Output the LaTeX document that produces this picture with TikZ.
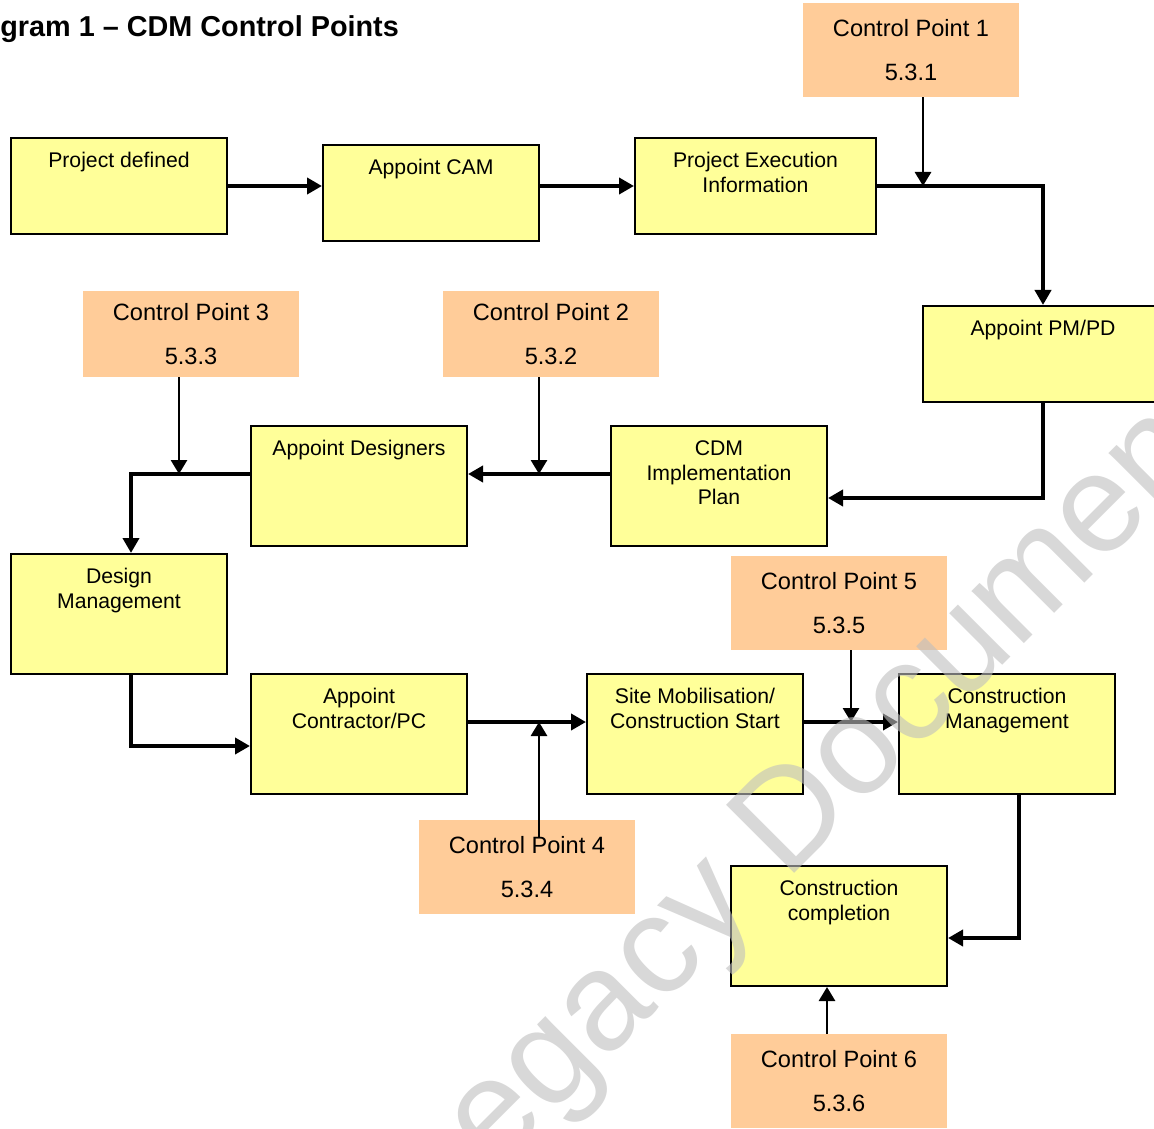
\documentclass[tikz,border=0pt]{standalone}
\usepackage{fontspec}
\setmainfont{Liberation Sans}
\usetikzlibrary{arrows.meta}
\usetikzlibrary{calc}
\definecolor{stagefill}{HTML}{FFFF99}
\definecolor{cpfill}{HTML}{FFCC99}
\definecolor{wmgray}{HTML}{BEBEBE}

\begin{document}
\begin{tikzpicture}[x=0.5pt,y=-0.5pt,
 stage/.style={draw=black, line width=1pt, fill=stagefill, minimum width=108pt, minimum height=48pt, inner sep=0pt},
 tall/.style={minimum height=60pt},
 stagetext/.style={anchor=north, yshift=-7.5pt, align=center, inner sep=0pt, font=\fontsize{10.6}{12.4}\selectfont},
 cpoint/.style={fill=cpfill, minimum width=108pt, minimum height=47pt, align=center, inner sep=0pt, font=\fontsize{11.8}{14}\selectfont},
 flow/.style={line width=2pt, -{Triangle[length=7.5pt,width=8pt]}},
 check/.style={line width=1.4pt, -{Triangle[length=7pt,width=8pt]}}]
\useasboundingbox (0,0) rectangle (1154,1128);

\node[anchor=base west, inner sep=0pt, font=\bfseries\fontsize{14.4}{17}\selectfont] (title) at (0,37) {gram 1 – CDM Control Points};

% stages
\node[stage, label={[stagetext]north:Project defined}] (pdef) at (119,186) {};
\node[stage, label={[stagetext]north:Appoint CAM}] (cam) at (431,193) {};
\node[stage, minimum width=120.5pt, label={[stagetext]north:Project Execution\\Information}] (pei) at (755.5,186) {};
\node[stage, minimum width=120pt, label={[stagetext]north:Appoint PM/PD}] (pmpd) at (1043,354) {};
\node[stage, tall, label={[stagetext]north:CDM\\Implementation\\Plan}] (cip) at (719,486) {};
\node[stage, tall, label={[stagetext]north:Appoint Designers}] (des) at (359,486) {};
\node[stage, tall, label={[stagetext]north:Design\\Management}] (dm) at (119,614) {};
\node[stage, tall, label={[stagetext]north:Appoint\\Contractor/PC}] (apc) at (359,734) {};
\node[stage, tall, label={[stagetext]north:Site Mobilisation/\\Construction Start}] (site) at (695,734) {};
\node[stage, tall, label={[stagetext]north:Construction\\Management}] (cm) at (1007,734) {};
\node[stage, tall, label={[stagetext]north:Construction\\completion}] (cc) at (839,926) {};

% control points
\node[cpoint] (cp1) at (911,50) {Control Point 1\\[8pt]5.3.1};
\node[cpoint, minimum height=43pt] (cp2) at (551,334) {Control Point 2\\[8pt]5.3.2};
\node[cpoint, minimum height=43pt] (cp3) at (191,334) {Control Point 3\\[8pt]5.3.3};
\node[cpoint] (cp4) at (527,867) {Control Point 4\\[8pt]5.3.4};
\node[cpoint] (cp5) at (839,603) {Control Point 5\\[8pt]5.3.5};
\node[cpoint] (cp6) at (839,1081) {Control Point 6\\[8pt]5.3.6};

% flow
\draw[flow] (pdef.east) -- (pdef.east -| cam.west);
\draw[flow] (cam.east |- pei.west) -- (pei.west);
\draw[flow] (pei.east) -| (pmpd.north);
\draw[flow] (pmpd.south) |- ([yshift=-6pt]cip.east);
\draw[flow] ([yshift=6pt]cip.west) -- ([yshift=6pt]des.east);
\draw[flow] ([yshift=6pt]des.west) -| ([xshift=6pt]dm.north);
\draw[flow] ([xshift=6pt]dm.south) |- ([yshift=-6pt]apc.west);
\draw[flow] ([yshift=6pt]apc.east) -- ([yshift=6pt]site.west);
\draw[flow] ([yshift=6pt]site.east) -- ([yshift=6pt]cm.west);
\draw[flow] ([xshift=6pt]cm.south) |- ([yshift=-6pt]cc.east);

% control point checks
\coordinate (j1) at (923,186);
\coordinate (j2) at (539,474);
\coordinate (j3) at (179,474);
\coordinate (j4) at (539,722);
\coordinate (j5) at (851,722);
\draw[check] (cp1.south -| j1) -- (j1);
\draw[check] (cp2.south -| j2) -- (j2);
\draw[check] (cp3.south -| j3) -- (j3);
\draw[check] ([xshift=6pt,yshift=-8.5pt]cp4.north) -- (j4);
\draw[check] (cp5.south -| j5) -- (j5);
\draw[check] ([xshift=-6pt]cp6.north) -- ([xshift=-6pt]cc.south);

\node[rotate=45, text=wmgray, text opacity=0.6, font=\fontsize{70}{75}\selectfont] (wm) at (815,805) {Legacy Document};
\end{tikzpicture}
\end{document}
